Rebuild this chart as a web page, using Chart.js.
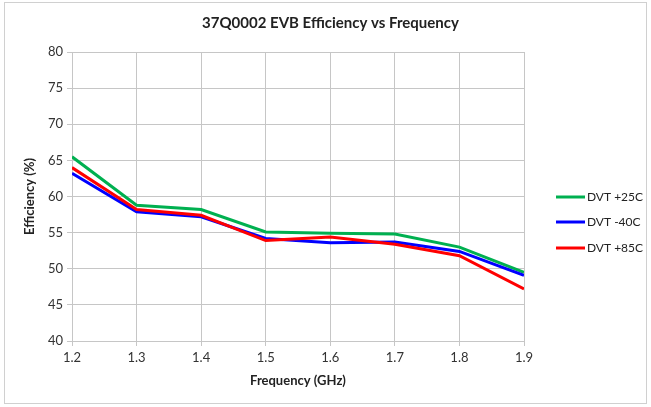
<!DOCTYPE html>
<html>
<head>
<meta charset="utf-8">
<script src="https://cdn.jsdelivr.net/npm/chart.js@4"></script>
<style>
  html, body { margin: 0; padding: 0; background: #fff; }
  canvas { display: block; }
</style>
</head>
<body>
<canvas id="chart" width="651" height="407"></canvas>
<script>
const frequencies = [1.2, 1.3, 1.4, 1.5, 1.6, 1.7, 1.8, 1.9];
const dvt25 = [65.5, 58.8, 58.2, 55.1, 54.9, 54.8, 53.0, 49.5];
const dvtMinus40 = [63.2, 57.9, 57.2, 54.2, 53.6, 53.7, 52.4, 49.1];
const dvt85 = [64.0, 58.2, 57.4, 53.9, 54.4, 53.4, 51.8, 47.2];
const seriesLabels = ['DVT +25C', 'DVT -40C', 'DVT +85C'];
const seriesColors = ['#00B050', '#0000FF', '#FF0000'];

const FONT = 'Lato, "Liberation Sans", sans-serif';
const GRID = '#c6c6c6';

function points(values) {
    return frequencies.map((f, i) => ({ x: f, y: values[i] }));
}

// outer frame around the whole chart, like the Excel chart border
const frame = {
    id: 'frame',
    beforeDraw(chart) {
        const ctx = chart.ctx;
        ctx.save();
        ctx.fillStyle = '#fff';
        ctx.fillRect(0, 0, chart.width, chart.height);
        ctx.strokeStyle = '#d0d0d0';
        ctx.lineWidth = 1;
        ctx.strokeRect(4.5, 2.5, chart.width - 9, chart.height - 6);
        ctx.restore();
    }
};

// legend drawn on the right, Excel style (line + label)
const sideLegend = {
    id: 'sideLegend',
    afterDraw(chart) {
        const ctx = chart.ctx;
        ctx.save();
        ctx.font = '12px ' + FONT;
        ctx.textBaseline = 'middle';
        ctx.lineWidth = 3;
        const rows = [197, 222, 248];
        chart.data.datasets.forEach((ds, i) => {
            const y = rows[i];
            ctx.strokeStyle = ds.borderColor;
            ctx.beginPath();
            ctx.moveTo(556, y);
            ctx.lineTo(585, y);
            ctx.stroke();
            ctx.fillStyle = '#222';
            ctx.fillText(ds.label, 587, y);
        });
        ctx.restore();
    }
};

const datasets = [dvt25, dvtMinus40, dvt85].map((vals, i) => ({
    label: seriesLabels[i],
    data: points(vals),
    borderColor: seriesColors[i],
    backgroundColor: seriesColors[i],
    borderWidth: 3,
    pointRadius: 0,
    tension: 0,
    order: 2 - i
}));

new Chart(document.getElementById('chart'), {
    type: 'line',
    data: { datasets: datasets },
    plugins: [frame, sideLegend],
    options: {
        responsive: false,
        animation: false,
        layout: { padding: { left: 10, right: 0, top: 0, bottom: 6 } },
        plugins: {
            legend: { display: false },
            tooltip: { enabled: false },
            title: {
                display: true,
                text: '37Q0002 EVB Efficiency vs Frequency',
                color: '#222',
                font: { family: FONT, size: 15, weight: 'bold' },
                padding: { top: 14, bottom: 20 }
            }
        },
        scales: {
            x: {
                type: 'linear',
                min: 1.2,
                max: 1.9,
                grid: { color: GRID, tickLength: 5, drawTicks: true },
                border: { color: GRID },
                ticks: {
                    stepSize: 0.1,
                    color: '#333',
                    padding: 4,
                    font: { family: FONT, size: 13 },
                    callback: v => Number(v).toFixed(1)
                },
                title: {
                    display: true,
                    text: 'Frequency (GHz)',
                    color: '#222',
                    font: { family: FONT, size: 13, weight: 'bold' },
                    padding: { top: 0, bottom: 12 }
                },
                afterFit: s => { s.height = 60; }
            },
            y: {
                min: 40,
                max: 80,
                grid: { color: GRID, tickLength: 5 },
                border: { color: GRID },
                ticks: {
                    stepSize: 5,
                    color: '#333',
                    padding: 4,
                    font: { family: FONT, size: 13 }
                },
                title: {
                    display: true,
                    text: 'Efficiency (%)',
                    color: '#222',
                    font: { family: FONT, size: 13, weight: 'bold' },
                    padding: { top: 12, bottom: 0 }
                },
                afterFit: s => { s.width = 62; }
            },
            // empty right-hand box that reserves room for the legend
            spacer: {
                position: 'right',
                display: true,
                grid: { display: false },
                border: { display: false },
                ticks: { display: false },
                afterFit: s => { s.width = 127; }
            }
        }
    }
});
</script>
</body>
</html>
